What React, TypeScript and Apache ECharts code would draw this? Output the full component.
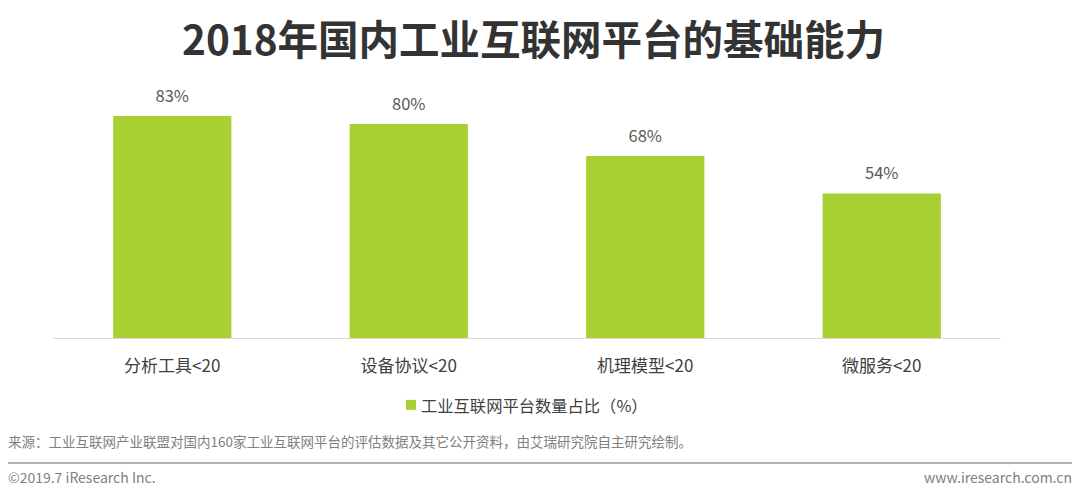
import React, { useEffect, useRef } from "react";
import * as echarts from "echarts";

const categories = ["分析工具<20", "设备协议<20", "机理模型<20", "微服务<20"];
const values = [83, 80, 68, 54];
const seriesName = "工业互联网平台数量占比（%）";
const titleText = "2018年国内工业互联网平台的基础能力";
const sourceText = "来源：工业互联网产业联盟对国内160家工业互联网平台的评估数据及其它公开资料，由艾瑞研究院自主研究绘制。";
const copyrightText = "©2019.7 iResearch Inc.";
const siteText = "www.iresearch.com.cn";

export default function App() {
  const ref = useRef<HTMLDivElement>(null);
  useEffect(() => {
    const chart = echarts.init(ref.current!, null, { renderer: "svg" });
    const font = "'Noto Sans CJK SC', 'Noto Sans', sans-serif";
    chart.setOption({
      animation: false,
      backgroundColor: "#ffffff",
      title: {
        text: titleText,
        left: 177,
        top: 12,
        textStyle: { fontSize: 40.5, fontWeight: "bold", color: "#333333", fontFamily: font },
      },
      legend: {
        data: [seriesName],
        bottom: 76,
        left: 401,
        icon: "rect",
        itemWidth: 10,
        itemHeight: 10,
        itemGap: 6,
        textStyle: { fontSize: 16.3, color: "#404040", fontFamily: font },
      },
      grid: { left: 54, right: 80, top: 70.5, height: 267.5, containLabel: false },
      xAxis: {
        type: "category",
        data: categories,
        axisLine: { lineStyle: { color: "#d9d9d9", width: 1 } },
        axisTick: { show: false },
        axisLabel: { fontSize: 17, color: "#404040", margin: 18, fontFamily: font },
      },
      yAxis: {
        type: "value",
        min: 0,
        max: 100,
        show: false,
        splitLine: { show: false },
      },
      series: [
        {
          name: seriesName,
          type: "bar",
          data: values,
          barWidth: "50%",
          itemStyle: { color: "#A8D032" },
          label: {
            show: true,
            position: "top",
            distance: 13,
            formatter: "{c}%",
            fontSize: 16.5,
            color: "#595959",
            fontFamily: font,
          },
        },
      ],
      graphic: [
        {
          type: "text",
          left: 8,
          top: 434,
          style: { text: sourceText, fontSize: 13.5, fill: "#808080", fontFamily: font },
        },
        {
          type: "line",
          shape: { x1: 8, y1: 463, x2: 1072, y2: 463 },
          style: { stroke: "#999999", lineWidth: 1.5 },
        },
        {
          type: "text",
          left: 8,
          top: 470,
          style: { text: copyrightText, fontSize: 14, fill: "#808080", fontFamily: font },
        },
        {
          type: "text",
          right: 8,
          top: 470,
          style: { text: siteText, fontSize: 14, fill: "#808080", fontFamily: font },
        },
      ],
    });
    return () => chart.dispose();
  }, []);
  return <div ref={ref} style={{ width: 1080, height: 494, position: "absolute", left: 0, top: 0 }} />;
}
